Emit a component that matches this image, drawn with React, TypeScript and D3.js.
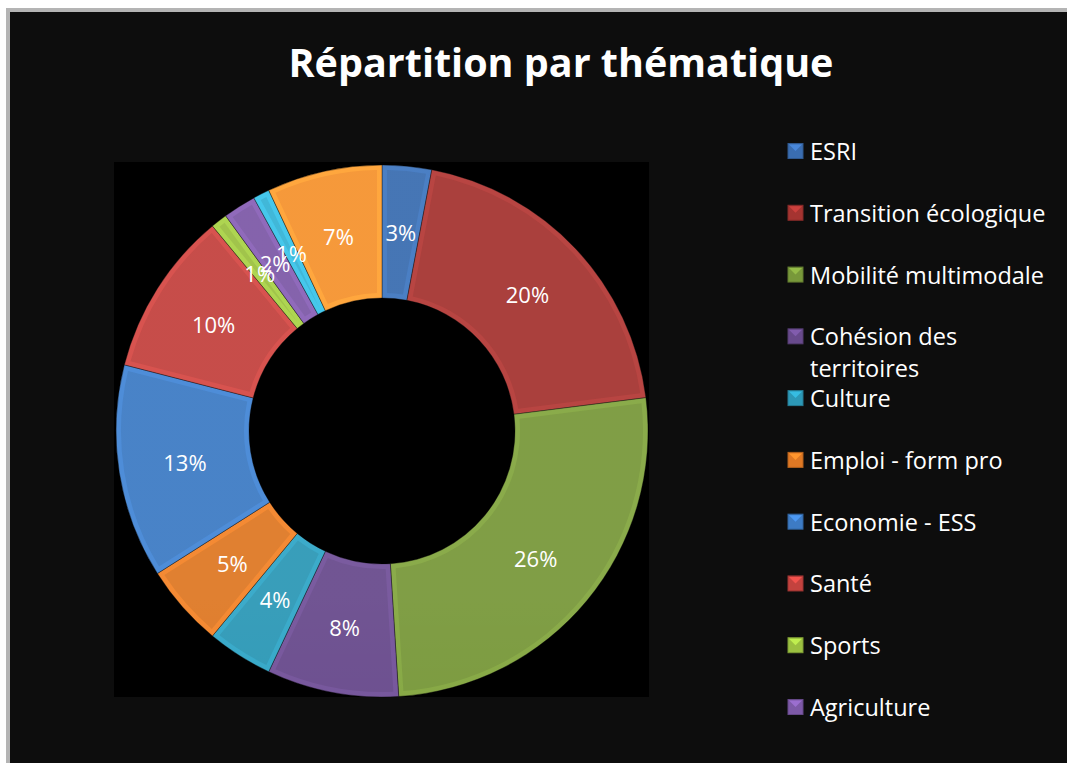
import { useEffect, useRef } from 'react'
import * as d3 from 'd3'

// ── data ─────────────────────────────────────────────────────────────────────
const TITLE = 'Répartition par thématique'
const CATEGORIES = [
  'ESRI',
  'Transition écologique',
  'Mobilité multimodale',
  'Cohésion des territoires',
  'Culture',
  'Emploi - form pro',
  'Economie - ESS',
  'Santé',
  'Sports',
  'Agriculture',
  'Catégorie 11',
  'Catégorie 12',
]
const VALUES = [3, 20, 26, 8, 4, 5, 13, 10, 1, 2, 1, 7]
const COLORS = [
  '#3a6db0', '#a53431', '#78983a', '#684a8c', '#2c98b6', '#de7824',
  '#3d7bc4', '#c3423e', '#9bc040', '#7d59a7', '#35b3d6', '#f5932e',
]
// legend in the original is cut after 10 entries
const LEGEND_COUNT = 10

// ── layout ───────────────────────────────────────────────────────────────────
const W = 1067
const H = 763
const CX = 382
const CY = 431
const R_OUT = 266
const R_IN = 133
const FONT = '"Open Sans", "DejaVu Sans", sans-serif'

type Slice = d3.PieArcDatum<number>

export default function App() {
  const ref = useRef<SVGSVGElement>(null)

  useEffect(() => {
    if (!ref.current) return
    const svg = d3.select(ref.current)
    svg.selectAll('*').remove()

    // frame
    svg.append('rect').attr('width', W).attr('height', H).attr('fill', '#ffffff')
    svg.append('rect')
      .attr('x', 6).attr('y', 8).attr('width', W - 6).attr('height', H - 8)
      .attr('fill', '#b4b4b4')
    svg.append('rect')
      .attr('x', 10).attr('y', 12).attr('width', W - 10).attr('height', H - 12)
      .attr('fill', '#0d0d0d')

    // plot area
    svg.append('rect')
      .attr('x', CX - R_OUT - 2).attr('y', CY - R_OUT - 3)
      .attr('width', 2 * R_OUT + 3).attr('height', 2 * R_OUT + 3)
      .attr('fill', '#000000')

    // title
    svg.append('text')
      .attr('x', 561).attr('y', 77)
      .attr('text-anchor', 'middle')
      .attr('fill', '#ffffff')
      .attr('font-family', FONT)
      .attr('font-weight', 700)
      .attr('font-size', 39.5)
      .text(TITLE)

    const defs = svg.append('defs')
    const shade = defs.append('linearGradient')
      .attr('id', 'shade')
      .attr('gradientUnits', 'userSpaceOnUse')
      .attr('x1', CX).attr('y1', CY - R_OUT).attr('x2', CX).attr('y2', CY + R_OUT)
    shade.append('stop').attr('offset', '0%').attr('stop-color', '#ffffff').attr('stop-opacity', 0.06)
    shade.append('stop').attr('offset', '50%').attr('stop-color', '#ffffff').attr('stop-opacity', 0)
    shade.append('stop').attr('offset', '100%').attr('stop-color', '#000000').attr('stop-opacity', 0.12)

    const pie = d3.pie<number>().sort(null).startAngle(0).endAngle(2 * Math.PI)
    const arcs = pie(VALUES)
    const arc = d3.arc<Slice>().innerRadius(R_IN).outerRadius(R_OUT)
    const inset = d3.arc<Slice>()
      .innerRadius(R_IN + 5).outerRadius(R_OUT - 5)
      .padRadius(200).padAngle(10 / 200)

    const g = svg.append('g').attr('transform', `translate(${CX},${CY})`)

    // bevel band (slightly lighter) + face
    g.selectAll('path.band')
      .data(arcs)
      .join('path')
        .attr('class', 'band')
        .attr('d', d => arc(d) ?? '')
        .attr('fill', (_, i) => d3.color(COLORS[i])!.brighter(0.25).formatHex())
        .attr('stroke', '#000')
        .attr('stroke-opacity', 0.4)
        .attr('stroke-width', 1)

    g.selectAll('path.face')
      .data(arcs)
      .join('path')
        .attr('class', 'face')
        .attr('d', d => inset(d) ?? '')
        .attr('fill', (_, i) => COLORS[i])

    g.append('path')
      .attr('d', d3.arc()({ innerRadius: R_IN, outerRadius: R_OUT, startAngle: 0, endAngle: 2 * Math.PI }) ?? '')
      .attr('fill', 'url(#shade)')

    // labels
    g.selectAll('text.lbl')
      .data(arcs)
      .join('text')
        .attr('class', 'lbl')
        .attr('transform', d => `translate(${arc.centroid(d)})`)
        .attr('text-anchor', 'middle')
        .attr('dominant-baseline', 'central')
        .attr('fill', '#ffffff')
        .attr('font-family', FONT)
        .attr('font-size', 22)
        .text(d => `${d.data}%`)

    // legend
    const ly = d3.scaleLinear().domain([0, LEGEND_COUNT - 1]).range([151, 707])
    const items = svg.append('g').selectAll('g.item')
      .data(d3.range(LEGEND_COUNT))
      .join('g')
        .attr('class', 'item')
        .attr('transform', i => `translate(788,${ly(i)})`)

    items.append('rect')
      .attr('x', 0).attr('y', -7.5).attr('width', 15).attr('height', 15)
      .attr('fill', i => COLORS[i])
      .attr('stroke', i => d3.color(COLORS[i])!.darker(0.6).formatHex())
      .attr('stroke-width', 1)
    items.append('path')
      .attr('d', 'M1,-6.5 L14,-6.5 L7.5,0 Z')
      .attr('fill', i => d3.color(COLORS[i])!.brighter(0.6).formatHex())

    items.each(function (i) {
      const t = d3.select(this).append('text')
        .attr('x', 22).attr('y', 0)
        .attr('dominant-baseline', 'central')
        .attr('fill', '#ffffff')
        .attr('font-family', FONT)
        .attr('font-size', 23.5)
      const name = CATEGORIES[i]
      if (name === 'Cohésion des territoires') {
        t.append('tspan').attr('x', 22).attr('dy', 0).text('Cohésion des')
        t.append('tspan').attr('x', 22).attr('dy', 32).text('territoires')
      } else {
        t.text(name)
      }
    })
  }, [])

  return (
    <div style={{ position: 'absolute', left: 0, top: 0 }}>
      <svg ref={ref} width={W} height={H} style={{ display: 'block' }} />
    </div>
  )
}
